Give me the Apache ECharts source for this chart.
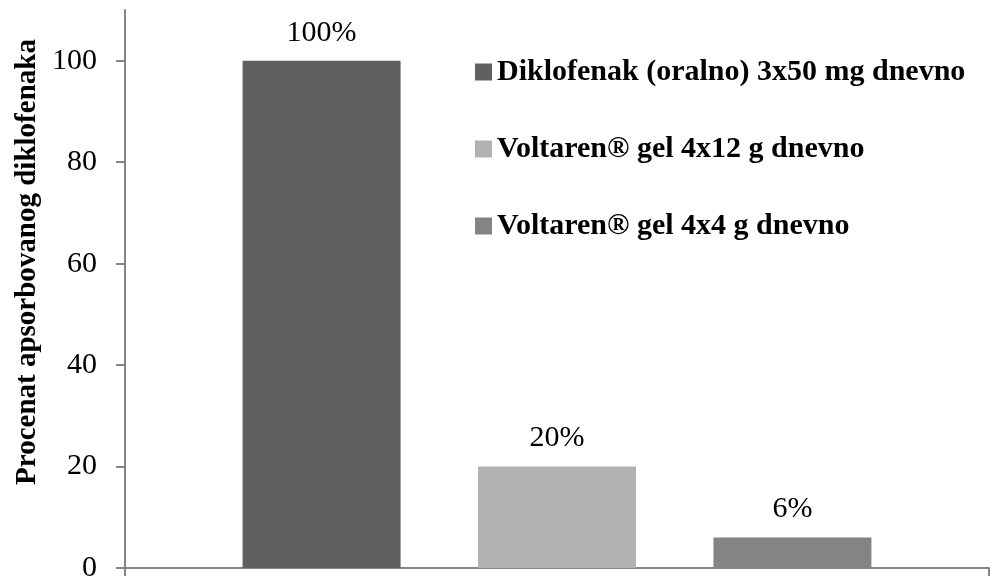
<!DOCTYPE html>
<html>
<head>
<meta charset="utf-8">
<script src="https://cdn.jsdelivr.net/npm/echarts@6/dist/echarts.min.js"></script>
<style>
  html, body { margin: 0; padding: 0; background: #fff; }
  #chart { width: 1000px; height: 583px; }
</style>
</head>
<body>
<div id="chart"></div>
<script>
// podaci
const categories = [''];
const seriesNames = [
    'Diklofenak (oralno) 3x50 mg dnevno',
    'Voltaren® gel 4x12 g dnevno',
    'Voltaren® gel 4x4 g dnevno'
];
const seriesValues = [100, 20, 6];
const seriesColors = ['#606060', '#b2b2b2', '#848484'];
const yTicks = [0, 20, 40, 60, 80, 100];
const yTitle = 'Procenat apsorbovanog diklofenaka';

const serif = '"Liberation Serif", "Times New Roman", serif';

const series = seriesNames.map(function(name, i) {
    return {
        name: name,
        type: 'bar',
        data: [seriesValues[i]],
        barWidth: 158,
        barGap: '49%',
        itemStyle: { color: seriesColors[i] },
        label: {
            show: true,
            position: 'top',
            distance: 13,
            formatter: '{c}%',
            fontFamily: serif,
            fontSize: 30,
            color: '#000'
        }
    };
});

const option = {
    animation: false,
    backgroundColor: '#fff',
    grid: { left: 125, right: 11, top: 10, bottom: 9, containLabel: false },
    legend: {
        orient: 'vertical',
        left: 470,
        top: 52,
        itemWidth: 17,
        itemHeight: 17,
        itemGap: 47,
        icon: 'rect',
        textStyle: {
            fontFamily: serif,
            fontWeight: 'bold',
            fontSize: 30,
            lineHeight: 30,
            color: '#000'
        },
        data: seriesNames
    },
    xAxis: {
        type: 'category',
        data: categories,
        axisLine: { lineStyle: { color: '#868686', width: 2 } },
        axisTick: { show: true, length: 8, lineStyle: { color: '#868686', width: 2 } },
        axisLabel: { show: false }
    },
    yAxis: {
        type: 'value',
        min: 0,
        max: 110,
        interval: 20,
        axisLine: { show: true, lineStyle: { color: '#868686', width: 2 } },
        axisTick: { show: true, length: 9, customValues: yTicks, lineStyle: { color: '#868686', width: 2 } },
        splitLine: { show: false },
        axisLabel: {
            customValues: yTicks,
            margin: 28,
            fontFamily: serif,
            fontSize: 30,
            color: '#000'
        }
    },
    graphic: [{
        type: 'text',
        x: 28,
        y: 262,
        rotation: Math.PI / 2,
        style: {
            text: yTitle,
            fontFamily: serif,
            fontWeight: 'bold',
            fontSize: 29,
            fill: '#000',
            align: 'center',
            verticalAlign: 'middle'
        }
    }],
    series: series
};

let myChart = echarts.init(document.getElementById('chart'));
myChart.setOption(option);
</script>
</body>
</html>
